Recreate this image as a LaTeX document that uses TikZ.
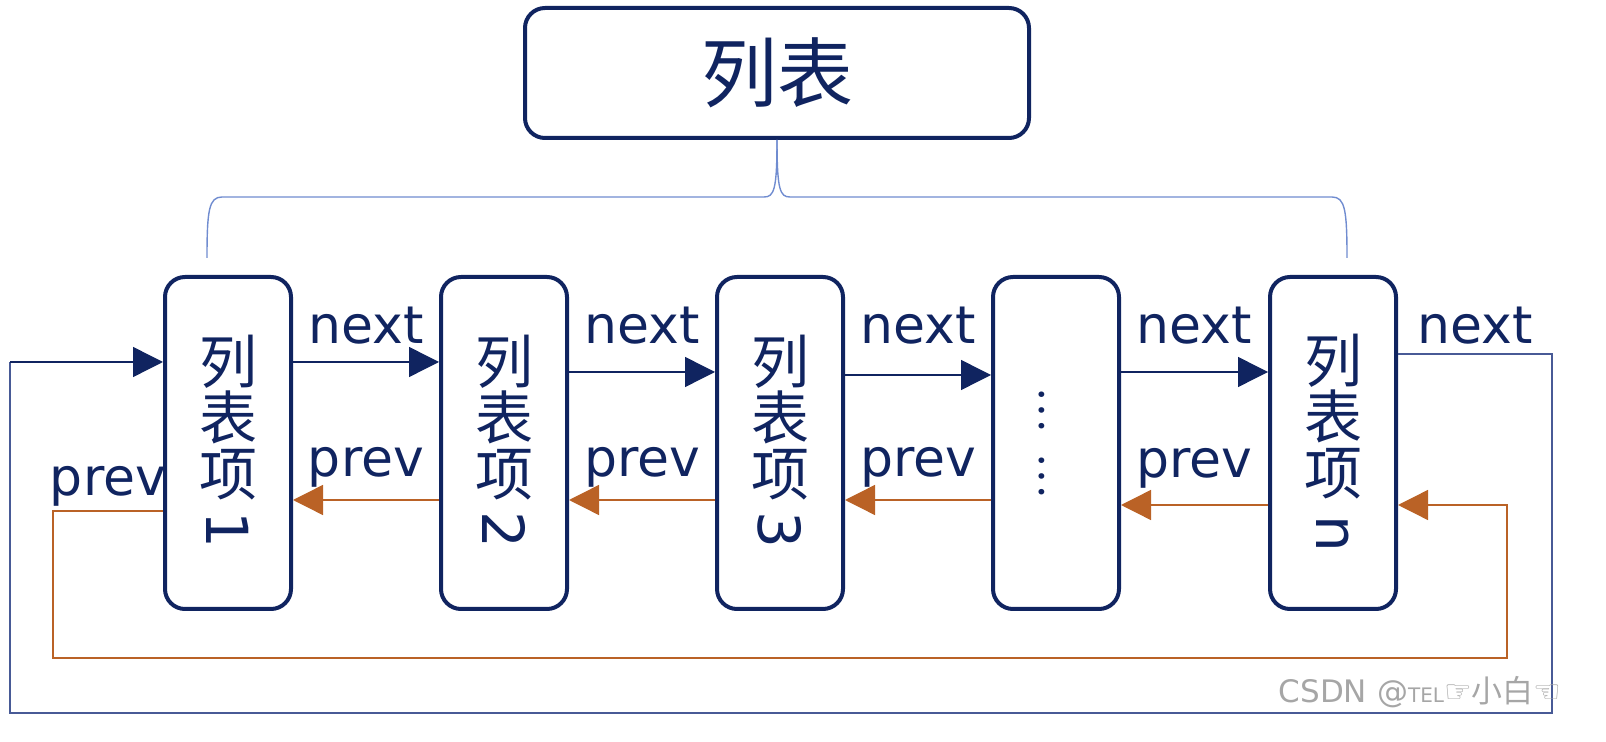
\documentclass[tikz,border=0pt]{standalone}
\usepackage{fontspec}
\setmainfont{DejaVu Sans}
\newfontfamily\cjk{Noto Sans CJK SC}
\usetikzlibrary{arrows.meta}
\definecolor{navy}{RGB}{16,36,96}
\definecolor{rust}{RGB}{186,98,38}
\definecolor{wrapblue}{RGB}{72,90,150}
\definecolor{braceblue}{RGB}{112,140,208}
\newcommand{\itemlabel}[1]{列\\表\\项\\\rotatebox[origin=c]{-90}{\normalfont #1}}
\tikzset{
  headbox/.style={draw=navy, line width=2pt, rounded corners=10pt, minimum width=252pt, minimum height=65pt, text=navy, font=\cjk\fontsize{38}{38}\selectfont},
  itembox/.style={draw=navy, line width=2pt, rounded corners=10pt, minimum width=63pt, minimum height=166pt, inner sep=0pt, text=navy, align=center, font=\cjk\fontsize{29}{28}\selectfont},
  nextarr/.style={navy, line width=0.7pt, -{Triangle[length=15pt,width=15pt]}},
  prevarr/.style={rust, line width=0.7pt, -{Triangle[length=15pt,width=15pt]}},
  lbl/.style={text=navy, inner sep=1pt, font=\fontsize{26}{26}\selectfont},
}
\begin{document}
\begin{tikzpicture}[x=0.5pt,y=-0.5pt]
\useasboundingbox (0,0) rectangle (1606,742);
% the list and its brace
\node[headbox] (head) at (777,73) {列表};
\draw[braceblue, line width=0.7pt] (207,258) .. controls (207,210) and (209,197) .. (222,197) -- (764,197)
  .. controls (774,197) and (777,190) .. (head.south);
\draw[braceblue, line width=0.7pt] (1347,258) .. controls (1347,210) and (1345,197) .. (1332,197) -- (790,197)
  .. controls (780,197) and (777,190) .. (head.south);
% items
\node[itembox] (i1) at (228,443) {\itemlabel{1}};
\node[itembox] (i2) at (504,443) {\itemlabel{2}};
\node[itembox] (i3) at (780,443) {\itemlabel{3}};
\node[itembox] (i4) at (1056,443) {};
\node[text=navy, inner sep=0pt, font=\cjk\fontsize{21}{21}\selectfont] (dots) at (1042,443) {\rotatebox[origin=c]{-90}{…\hspace{11pt}…}};
\node[itembox] (i5) at (1333,443) {\itemlabel{n}};
% next pointers
\draw[nextarr] (i1.east |- 0,362) -- node[lbl, above=7.5pt] {next} (i2.west |- 0,362);
\draw[nextarr] (i2.east |- 0,372) -- node[lbl, above=12.5pt] {next} (i3.west |- 0,372);
\draw[nextarr] (i3.east |- 0,375) -- node[lbl, above=14pt] {next} (i4.west |- 0,375);
\draw[nextarr] (i4.east |- 0,372) -- node[lbl, above=12.5pt] {next} (i5.west |- 0,372);
\coordinate (nr) at (1552,354);
\coordinate (nl) at (10,713);
\draw[wrapblue, line width=0.7pt] (i5.east |- nr) -- node[lbl, above=3.5pt] {next} (nr) |- (nl) -- (nl |- 0,362);
\draw[nextarr] (nl |- 0,362) -- (i1.west |- 0,362);
% prev pointers
\draw[prevarr] (i2.west |- 0,500) -- node[lbl, above=5pt] {prev} (i1.east |- 0,500);
\draw[prevarr] (i3.west |- 0,500) -- node[lbl, above=5pt] {prev} (i2.east |- 0,500);
\draw[prevarr] (i4.west |- 0,500) -- node[lbl, above=5pt] {prev} (i3.east |- 0,500);
\draw[prevarr] (i5.west |- 0,505) -- node[lbl, above=7pt] {prev} (i4.east |- 0,505);
\coordinate (pl) at (53,511);
\coordinate (pr) at (1507,658);
\draw[prevarr] (i1.west |- pl) -- node[lbl, above=1pt] {prev} (pl) |- (pr) -- (pr |- 0,505) -- (i5.east |- 0,505);
% watermark
\node[text=black!35, inner sep=0pt, anchor=east, font=\fontsize{15.5}{15.5}\selectfont] (mark) at (1562,692) {CSDN @{\fontsize{10}{10}\selectfont TEL}☞{\cjk 小白}☜};
\end{tikzpicture}
\end{document}
